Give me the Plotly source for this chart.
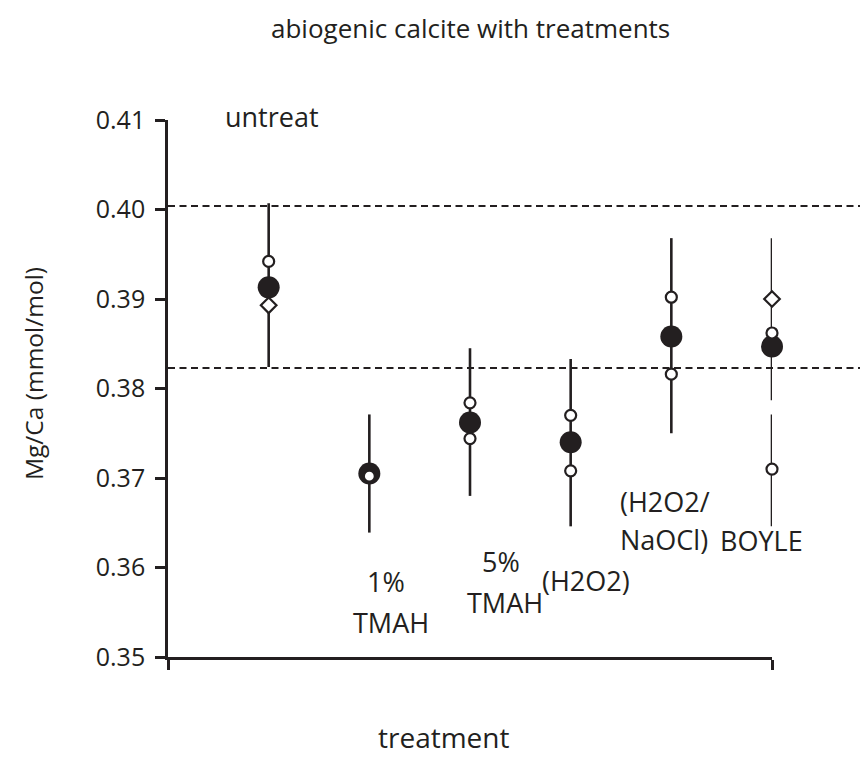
import plotly.graph_objects as go

# ---- data ----
categories = ["untreat", "1% TMAH", "5% TMAH", "(H2O2)", "(H2O2/NaOCl)", "BOYLE"]
cat_x = [1, 2, 3, 4, 5, 6]
mean_values = [0.3913, 0.3705, 0.3762, 0.3740, 0.3858, 0.3847]

open_circle_x = [1, 2, 3, 3, 4, 4, 5, 5, 6, 6]
open_circle_y = [0.3942, 0.3702, 0.3784, 0.3744, 0.3770, 0.3708, 0.3902, 0.3816, 0.3862, 0.3710]

diamond_x = [1, 6]
diamond_y = [0.3893, 0.3900]

bar_x = [1, 2, 3, 4, 5, 6, 6]
bar_low = [0.3824, 0.3639, 0.3680, 0.3646, 0.3750, 0.3787, 0.3646]
bar_high = [0.4007, 0.3771, 0.3845, 0.3833, 0.3968, 0.3968, 0.3771]

ref_lines = [0.4004, 0.3823]
y_ticks = [0.35, 0.36, 0.37, 0.38, 0.39, 0.40, 0.41]

INK = "#231f20"
FONT = "Open Sans"

# page geometry (figure pixels; page has an 8px body offset)
L, T, PW, PH = 160, 112, 604, 537
W, H = 868, 777


def px(x):
    return (x - L) / PW


def py(y):
    return (T + PH - y) / PH


# build segment coordinates
seg_x, seg_y = [], []
for x, lo, hi in zip(bar_x, bar_low, bar_high):
    seg_x += [x, x, None]
    seg_y += [lo, hi, None]

fig = go.Figure()
fig.add_trace(go.Scatter(x=seg_x, y=seg_y, mode="lines",
                         line=dict(color=INK, width=2.6), hoverinfo="skip",
                         showlegend=False, cliponaxis=False))
fig.add_trace(go.Scatter(x=cat_x, y=mean_values, mode="markers",
                         marker=dict(symbol="circle", size=22, color=INK,
                                     line=dict(width=0)),
                         showlegend=False, cliponaxis=False))
fig.add_trace(go.Scatter(x=open_circle_x, y=open_circle_y, mode="markers",
                         marker=dict(symbol="circle", size=11, color="white",
                                     line=dict(width=2.2, color=INK)),
                         showlegend=False, cliponaxis=False))
fig.add_trace(go.Scatter(x=diamond_x, y=diamond_y, mode="markers",
                         marker=dict(symbol="diamond", size=12, color="white",
                                     line=dict(width=2.2, color=INK)),
                         showlegend=False, cliponaxis=False))

for v in ref_lines:
    fig.add_shape(type="line", xref="paper", yref="y", x0=0, x1=(W - L) / PW, y0=v, y1=v,
                  line=dict(color=INK, width=2, dash="7px,4.5px"), layer="below")

# category labels (data coordinates)
labels = [
    ("1%", 2.168, 0.3584),
    ("TMAH", 2.218, 0.35384),
    ("5%", 3.311, 0.36064),
    ("TMAH", 3.351, 0.35606),
    ("(H2O2)", 4.155, 0.35852),
    ("(H2O2/", 4.94, 0.36737),
    ("NaOCl)", 4.93, 0.3631),
    ("BOYLE", 5.9, 0.36303),
]
for text, x, y in labels:
    fig.add_annotation(text=text, x=x, y=y, xref="x", yref="y", showarrow=False,
                       xanchor="center", yanchor="middle",
                       font=dict(family=FONT, size=27, color=INK))

fig.add_annotation(text="untreat", x=1.03, xref="x", y=py(109), yref="paper",
                   showarrow=False, xanchor="center", yanchor="middle",
                   font=dict(family=FONT, size=27, color=INK))

fig.add_annotation(text="abiogenic calcite with treatments", xref="paper", yref="paper",
                   x=px(462), y=py(20), showarrow=False, xanchor="center", yanchor="middle",
                   font=dict(family=FONT, size=26, color=INK))
fig.add_annotation(text="treatment", xref="paper", yref="paper",
                   x=px(436), y=py(729), showarrow=False, xanchor="center", yanchor="middle",
                   font=dict(family=FONT, size=28, color=INK))
fig.add_annotation(text="Mg/Ca (mmol/mol)", xref="paper", yref="paper",
                   x=px(25), y=py(366), showarrow=False, xanchor="center", yanchor="middle",
                   textangle=-90, font=dict(family=FONT, size=24.5, color=INK))

fig.update_layout(
    width=W, height=H,
    margin=dict(l=L, r=W - L - PW, t=T, b=H - T - PH),
    paper_bgcolor="white", plot_bgcolor="white",
    font=dict(family=FONT, color=INK),
    xaxis=dict(range=[0, 6], showgrid=False, zeroline=False, showline=True,
               linecolor=INK, linewidth=2.6, ticks="outside", ticklen=10,
               tickwidth=2.6, tickcolor=INK, tickvals=[0, 6], showticklabels=False),
    yaxis=dict(range=[0.35, 0.41], showgrid=False, zeroline=False, showline=True,
               linecolor=INK, linewidth=2.6, ticks="outside", ticklen=10,
               tickwidth=2.6, tickcolor=INK, tickvals=y_ticks,
               ticktext=[f"{v:.2f}" for v in y_ticks], ticklabelstandoff=5,
               tickfont=dict(family=FONT, size=25, color=INK)),
)

fig.write_html("out.html")
